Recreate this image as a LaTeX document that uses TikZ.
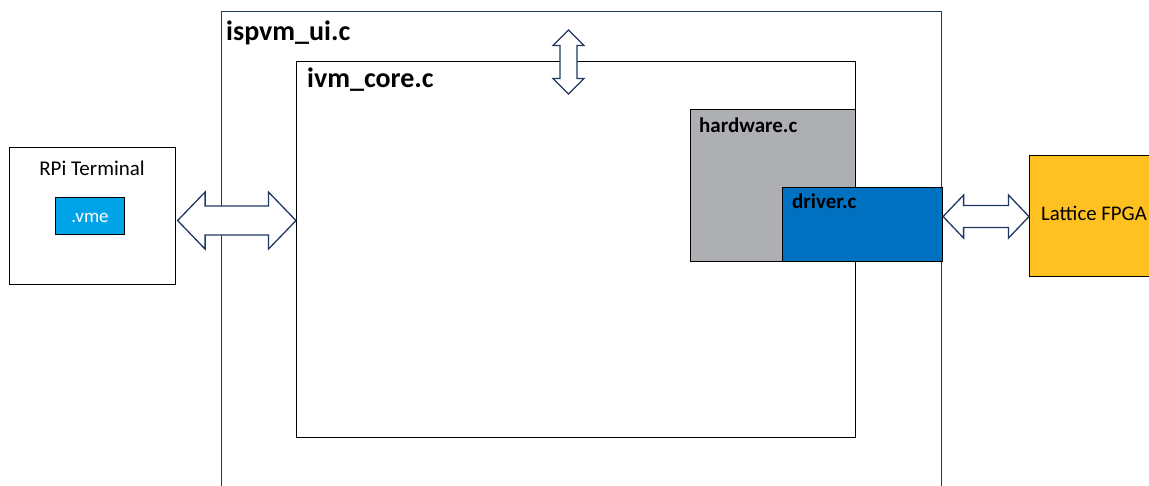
\documentclass[tikz,border=0pt]{standalone}
\usepackage{fontspec}
\setmainfont{Carlito}
\usetikzlibrary{calc}

\definecolor{navy}{HTML}{1F3864}
\definecolor{hwgray}{HTML}{AEAFB2}
\definecolor{drvblue}{HTML}{0070C0}
\definecolor{vmeblue}{HTML}{00A2E8}
\definecolor{fpgagold}{HTML}{FFC021}

\tikzset{
  box/.style={draw=black, line width=1.1pt, inner sep=0pt, anchor=north west},
  outerbox/.style={draw=navy, line width=1.1pt, inner sep=0pt, anchor=north west},
  dblarrow/.style={draw=navy, fill=white, line width=1.3pt, line join=miter},
  title/.style={font=\bfseries, inner sep=0pt, anchor=base west},
  plain/.style={inner sep=0pt}
}

% horizontal double arrow between two points on one row:
% #1 left tip, #2 right tip, #3 head half-width, #4 shaft half-width, #5 head length
\newcommand\HArrow[5]{%
  \draw[dblarrow] (#1) -- ($(#1)+(#5,-#3)$) -- ($(#1)+(#5,-#4)$)
    -- ($(#2)+(-#5,-#4)$) -- ($(#2)+(-#5,-#3)$) -- (#2)
    -- ($(#2)+(-#5,#3)$) -- ($(#2)+(-#5,#4)$)
    -- ($(#1)+(#5,#4)$) -- ($(#1)+(#5,#3)$) -- cycle;}
% vertical double arrow: #1 top tip, #2 bottom tip
\newcommand\VArrow[5]{%
  \draw[dblarrow] (#1) -- ($(#1)+(#3,#5)$) -- ($(#1)+(#4,#5)$)
    -- ($(#2)+(#4,-#5)$) -- ($(#2)+(#3,-#5)$) -- (#2)
    -- ($(#2)+(-#3,-#5)$) -- ($(#2)+(-#4,-#5)$)
    -- ($(#1)+(-#4,#5)$) -- ($(#1)+(-#3,#5)$) -- cycle;}

\begin{document}
\begin{tikzpicture}[x=1pt, y=-1pt]
  \clip (0,0) rectangle (1149,485);
  \fill[white] (0,0) rectangle (1149,485);

  % program modules
  \node[outerbox, minimum width=720, minimum height=520] (ui) at (221,11) {};
  \node[title, font=\bfseries\fontsize{28}{31}\selectfont] (uilabel) at (226,40) {ispvm\_ui.c};

  \node[box, minimum width=559, minimum height=376] (core) at (296,61) {};
  \node[title, font=\bfseries\fontsize{28}{31}\selectfont] (corelabel) at (307,87) {ivm\_core.c};

  \node[box, fill=hwgray, minimum width=165, minimum height=152] (hw) at (690,109) {};
  \node[title, font=\bfseries\fontsize{21}{24}\selectfont] (hwlabel) at (699,132) {hardware.c};

  \node[box, fill=drvblue, minimum width=160, minimum height=74] (drv) at (782,187) {};
  \node[title, font=\bfseries\fontsize{21}{24}\selectfont] (drvlabel) at (792,208) {driver.c};

  % terminal side
  \node[box, minimum width=166, minimum height=137] (rpi) at (9,147) {};
  \node[plain, anchor=base, font=\fontsize{21}{24}\selectfont] (rpilabel) at (92,175) {RPi Terminal};
  \node[box, fill=vmeblue, minimum width=69, minimum height=37] (vme) at (55,197) {};
  \node[plain, anchor=base, text=white, font=\fontsize{19}{22}\selectfont] (vmelabel) at (90,222) {.vme};

  % target device
  \node[box, fill=fpgagold, minimum width=150, minimum height=121] (fpga) at (1029,155) {};
  \node[plain, anchor=base west, font=\fontsize{20.8}{24}\selectfont] (fpgalabel) at (1041,220) {Lattice FPGA};

  % data paths
  \path (rpi.east) ++(1.5,4.5) coordinate (a1);
  \coordinate (a2) at (a1 -| core.west);
  \HArrow{a1}{a2}{28.5}{14.5}{27.5}

  \coordinate (b2) at ($(fpga.west)+(0,0.5)$);
  \coordinate (b1) at (b2 -| drv.east);
  \HArrow{b1}{b2}{21.5}{11}{20.5}

  \path (core.north) ++(-7.5,0) coordinate (c0);
  \coordinate (c1) at ($(c0)+(0,-31)$);
  \coordinate (c2) at ($(c0)+(0,33)$);
  \VArrow{c1}{c2}{15.5}{8.5}{15.5}
\end{tikzpicture}
\end{document}
